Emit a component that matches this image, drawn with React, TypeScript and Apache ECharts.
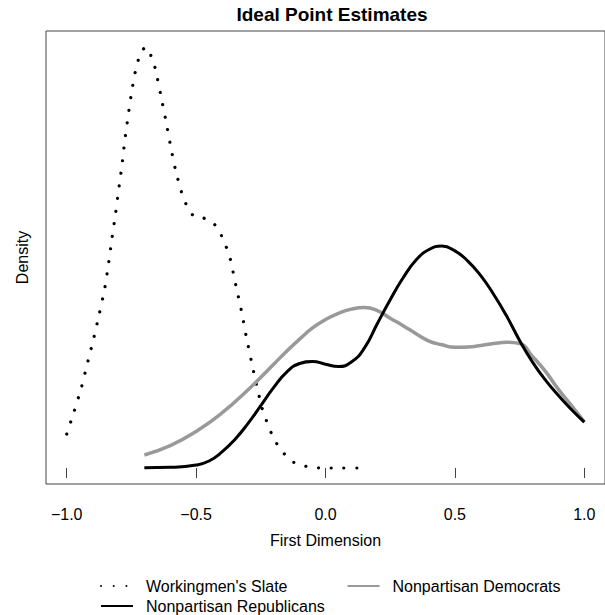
import React, { useEffect, useRef } from 'react';
import * as echarts from 'echarts';

const FONT = "'Liberation Sans', Arial, Helvetica, sans-serif";

// Workingmen's Slate (dotted)
const wsX = [-1.000, -0.971, -0.943, -0.920, -0.896, -0.874, -0.854, -0.839, -0.826, -0.812, -0.800, -0.787, -0.776, -0.763, -0.749, -0.732, -0.718, -0.696, -0.688, -0.667, -0.655, -0.636, -0.617, -0.599, -0.580, -0.555, -0.537, -0.512, -0.470, -0.430, -0.403, -0.385, -0.369, -0.346, -0.325, -0.307, -0.287, -0.267, -0.245, -0.229, -0.211, -0.190, -0.162, -0.125, -0.081, -0.035, 0.015, 0.065, 0.125];
const wsY = [0.243, 0.407, 0.579, 0.750, 0.929, 1.107, 1.279, 1.457, 1.636, 1.814, 1.986, 2.164, 2.343, 2.521, 2.700, 2.871, 2.957, 3.021, 3.007, 2.929, 2.843, 2.671, 2.493, 2.314, 2.143, 1.971, 1.886, 1.814, 1.793, 1.750, 1.671, 1.593, 1.507, 1.307, 1.129, 0.950, 0.771, 0.600, 0.429, 0.343, 0.257, 0.179, 0.107, 0.043, 0.014, 0.002, 0, 0, 0];

// Nonpartisan Republicans (black)
const repX = [-0.70, -0.60, -0.50, -0.45, -0.40, -0.35, -0.30, -0.25, -0.20, -0.15, -0.10, -0.05, 0.00, 0.05, 0.10, 0.15, 0.20, 0.25, 0.30, 0.35, 0.40, 0.45, 0.50, 0.55, 0.60, 0.65, 0.70, 0.75, 0.80, 0.85, 0.90, 0.95, 1.00];
const repY = [0.002, 0.005, 0.021, 0.050, 0.115, 0.205, 0.318, 0.448, 0.578, 0.688, 0.750, 0.765, 0.745, 0.728, 0.760, 0.860, 1.035, 1.207, 1.365, 1.492, 1.568, 1.593, 1.558, 1.485, 1.380, 1.245, 1.090, 0.915, 0.760, 0.630, 0.520, 0.420, 0.329];

// Nonpartisan Democrats (gray)
const demX = [-0.70, -0.60, -0.50, -0.40, -0.30, -0.20, -0.15, -0.10, -0.05, 0.00, 0.05, 0.10, 0.15, 0.20, 0.25, 0.30, 0.35, 0.40, 0.45, 0.50, 0.55, 0.60, 0.65, 0.70, 0.75, 0.80, 0.85, 0.90, 0.95, 1.00];
const demY = [0.093, 0.160, 0.262, 0.395, 0.560, 0.745, 0.838, 0.925, 1.005, 1.065, 1.110, 1.140, 1.152, 1.130, 1.075, 1.021, 0.964, 0.911, 0.884, 0.866, 0.868, 0.879, 0.893, 0.902, 0.893, 0.800, 0.693, 0.564, 0.450, 0.331];

const xTicks = [-1.0, -0.5, 0.0, 0.5, 1.0];
const seriesNames = ["Workingmen's Slate", 'Nonpartisan Democrats', 'Nonpartisan Republicans'];

const pairs = (xs: number[], ys: number[]) => xs.map((x, i) => [x, ys[i]]);

export default function App() {
  const ref = useRef<HTMLDivElement>(null);
  useEffect(() => {
    const chart = echarts.init(ref.current!, null, { renderer: 'svg' });
    const legendText = { fontSize: 16, color: '#000', fontFamily: FONT, padding: [0, 0, 0, 8] };
    const legendCommon = {
      left: 100,
      padding: 0,
      itemWidth: 32,
      itemHeight: 16,
      selectedMode: false,
      textStyle: legendText,
      itemStyle: { opacity: 0, borderWidth: 0 },
    };
    chart.setOption({
      animation: false,
      backgroundColor: '#ffffff',
      title: {
        text: 'Ideal Point Estimates',
        left: 327,
        textAlign: 'center',
        top: 0,
        textStyle: { fontSize: 19, fontWeight: 'bold', color: '#000', fontFamily: FONT },
      },
      grid: {
        left: 46,
        right: -3,
        top: 31,
        bottom: 131,
        show: true,
        borderColor: '#444',
        borderWidth: 1,
        backgroundColor: 'transparent',
      },
      xAxis: {
        type: 'value',
        min: -1.08,
        max: 1.08,
        name: 'First Dimension',
        nameLocation: 'middle',
        nameGap: 48,
        nameTextStyle: { fontSize: 16, color: '#000', fontFamily: FONT },
        axisLine: { show: false },
        splitLine: { show: false },
        axisTick: {
          show: true,
          length: 10,
          inside: false,
          customValues: xTicks,
          lineStyle: { color: '#444', width: 1 },
        },
        axisLabel: {
          customValues: xTicks,
          margin: 22,
          fontSize: 16,
          color: '#000',
          fontFamily: FONT,
          formatter: (v: number) => v.toFixed(1).replace('-', '\u2212'),
        },
      },
      yAxis: {
        type: 'value',
        min: -0.115,
        max: 3.136,
        name: 'Density',
        nameLocation: 'middle',
        nameRotate: 90,
        nameGap: 16,
        nameTextStyle: { fontSize: 16, color: '#000', fontFamily: FONT },
        axisLine: { show: false },
        axisTick: { show: false },
        axisLabel: { show: false },
        splitLine: { show: false },
      },
      legend: [
        { ...legendCommon, data: [seriesNames[0], seriesNames[1]], top: 578, itemGap: 59 },
        { ...legendCommon, data: [seriesNames[2]], top: 598 },
      ],
      series: [
        {
          name: seriesNames[0],
          type: 'line',
          data: pairs(wsX, wsY),
          smooth: 0.2,
          symbol: 'none',
          lineStyle: { color: '#000', width: 3.2, type: [0.01, 12.7], cap: 'round' },
          itemStyle: { color: '#000' },
        },
        {
          name: seriesNames[1],
          type: 'line',
          data: pairs(demX, demY),
          smooth: 0.5,
          symbol: 'none',
          lineStyle: { color: '#999999', width: 3.5 },
          itemStyle: { color: '#999999' },
        },
        {
          name: seriesNames[2],
          type: 'line',
          data: pairs(repX, repY),
          smooth: 0.5,
          symbol: 'none',
          lineStyle: { color: '#000', width: 3 },
          itemStyle: { color: '#000' },
        },
      ],
    });
    return () => chart.dispose();
  }, []);
  return (
    <div
      ref={ref}
      style={{ position: 'absolute', left: 0, top: 0, width: 605, height: 615, background: '#fff' }}
    />
  );
}
